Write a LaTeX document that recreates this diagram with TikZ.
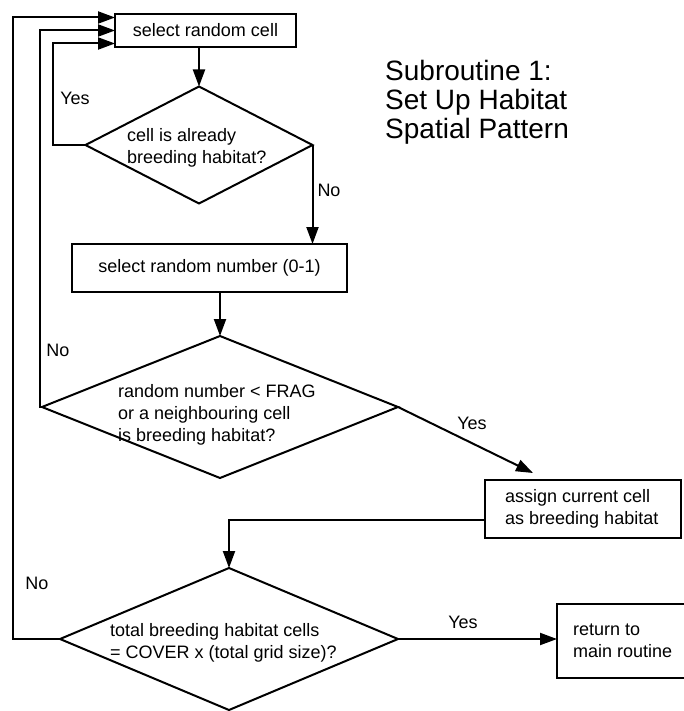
\documentclass[tikz,border=0pt]{standalone}
\usepackage{fontspec}
\setmainfont{Liberation Sans}
\usetikzlibrary{shapes.geometric,arrows.meta,calc}

\begin{document}
\begin{tikzpicture}[x=1pt,y=-1pt,
  every node/.style={font=\fontsize{18}{22}\selectfont},
  stepbox/.style={draw, line width=1.6pt, rectangle, inner sep=0pt, outer sep=0pt},
  decision/.style={draw, line width=2pt, diamond, inner sep=0pt, outer sep=0pt},
  txt/.style={anchor=west, align=left, inner sep=0pt},
  lbl/.style={inner sep=0pt},
  flow/.style={line width=2pt, -{Triangle[length=17pt,width=12pt]}},
  wire/.style={line width=2pt}]
\useasboundingbox (0,0) rectangle (683,711);

% process boxes
\node[stepbox, minimum width=181pt, minimum height=33pt] (box1) at (205.5,30.5) {select random cell};
\node[stepbox, minimum width=275pt, minimum height=48pt] (box2) at (209.5,268) {select random number (0-1)};
\node[stepbox, minimum width=196pt, minimum height=58pt] (box3) at (583,509) {};
\node[stepbox, minimum width=130pt, minimum height=74pt] (box4) at (622,641) {};

% decisions
\node[decision, minimum width=227pt, minimum height=117pt] (d1) at (199,145) {};
\node[decision, minimum width=356pt, minimum height=142pt] (d2) at (220,407) {};
\node[decision, minimum width=338pt, minimum height=142pt] (d3) at (229,639) {};

% texts
\node[txt] (t1) at (127,148) {cell is already\\breeding habitat?};
\node[txt] (t2) at (118,415) {random number < FRAG\\or a neighbouring cell\\is breeding habitat?};
\node[txt] (t3) at (110,643) {total breeding habitat cells\\= COVER x (total grid size)?};
\node[txt] (t4) at (505,509) {assign current cell\\as breeding habitat};
\node[txt] (t5) at (573,641) {return to\\main routine};

\node[txt, font=\fontsize{28}{29}\selectfont] (title) at (385,102)
  {Subroutine 1:\\Set Up Habitat\\Spatial Pattern};

% branch labels
\node[lbl] (yes1) at (75,98) {Yes};
\node[lbl] (no1) at (329,190) {No};
\node[lbl] (no2) at (58,350) {No};
\node[lbl] (yes2) at (472,423) {Yes};
\node[lbl] (no3) at (37,583) {No};
\node[lbl] (yes3) at (463,622) {Yes};

% entry points on the left of the first box
\coordinate (in1) at ($(box1.west)+(0,-13)$);
\coordinate (in3) at ($(box1.west)+(0,13)$);
\coordinate (loopA) at (53,0);
\coordinate (loopB) at (40,0);
\coordinate (loopC) at (13,0);
\coordinate (yestip) at ($(box3.north west)+(48,-7)$);
\coordinate (b3out) at ($(box3.west)+(0,11)$);

% connectors
\draw[flow] (box1.south -| d1.north) -- (d1.north);
\draw[flow] (d1.east) -- (d1.east |- box2.north);
\draw[flow] (box2.south -| d2.north) -- (d2.north);
\draw[flow] (d2.east) -- (yestip);
\draw[flow] (b3out) -| (d3.north);
\draw[flow] (d3.east) -- (d3.east -| box4.west);

% return loops
\draw[flow] (d1.west) -| (loopA |- in3) -- (in3);
\draw[flow] (d2.west) -| (loopB |- box1.west) -- (box1.west);
\draw[flow] (d3.west) -| (loopC |- in1) -- (in1);
\end{tikzpicture}
\end{document}
